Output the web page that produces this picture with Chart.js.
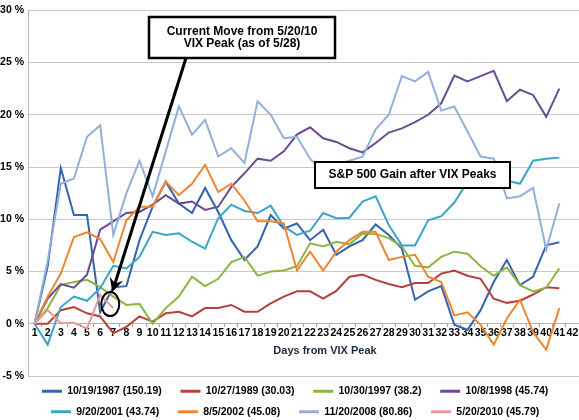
<!DOCTYPE html>
<html lang="en">
<head>
<meta charset="UTF-8">
<title>S&amp;P 500 Gain after VIX Peaks</title>
<script src="https://cdn.jsdelivr.net/npm/chart.js@4.4.1/dist/chart.umd.min.js"></script>
<style>
  html, body { margin: 0; padding: 0; background: #fff; }
  .wrap { position: relative; width: 579px; height: 420px; }
</style>
</head>
<body>
<div class="wrap"><canvas id="chart" width="579" height="420"></canvas></div>
<script>
// days after the VIX peak (axis runs one past the last data point)
const days = ['1','2','3','4','5','6','7','8','9','10','11','12','13','14','15','16','17','18','19','20','21',
  '22','23','24','25','26','27','28','29','30','31','32','33','34','35','36','37','38','39','40','41','42'];

// S&P 500 % gain after each VIX peak
const d1987 = [0, 5.5, 14.9, 10.4, 10.4, 1.1, 3.5, 3.6, 8.0, 11.2, 13.6, 11.5, 10.6, 13.0, 10.7, 8.0, 6.1, 7.4, 10.4, 9.1, 9.6,
  8.0, 9.0, 6.6, 7.4, 8.0, 9.5, 8.5, 7.2, 2.3, 3.1, 3.6, -0.1, -0.6, 1.3, 4.0, 6.1, 3.7, 4.5, 7.5, 7.8];
const d1989 = [0, 0, 1.3, 1.6, 1.0, 0.7, -0.9, -0.3, 0.7, 0.2, 1.0, 1.15, 0.7, 1.5, 1.5, 1.8, 1.15, 1.15, 1.95, 2.6, 3.1,
  3.1, 2.4, 3.15, 4.5, 4.7, 4.2, 3.8, 3.5, 3.9, 3.9, 4.8, 5.1, 4.6, 4.3, 2.4, 2.0, 2.2, 2.8, 3.5, 3.4];
const d1997 = [0, 1.5, 3.7, 4.0, 4.2, 3.5, 2.6, 1.8, 1.9, 0.0, 1.5, 2.6, 4.5, 3.6, 4.3, 5.9, 6.4, 4.6, 5.0, 5.1, 5.5,
  7.7, 7.4, 7.85, 7.6, 8.65, 8.6, 8.2, 7.4, 5.55, 5.4, 6.4, 6.9, 6.7, 5.5, 4.6, 5.4, 3.7, 3.1, 3.45, 5.3];
const d1998 = [0, 2.4, 3.8, 3.45, 4.7, 9.0, 9.8, 10.6, 10.7, 11.4, 12.3, 11.5, 11.7, 10.9, 11.2, 13.1, 14.4, 15.8, 15.6, 16.5, 18.1,
  18.8, 17.75, 17.4, 16.8, 16.4, 17.3, 18.3, 18.7, 19.3, 20.0, 21.1, 23.75, 23.2, 23.7, 24.2, 21.3, 22.4, 21.9, 19.8, 22.5];
const d2001 = [0, -2.0, 1.6, 2.6, 2.2, 3.4, 5.55, 5.3, 6.4, 8.8, 8.5, 8.65, 7.85, 7.2, 10.1, 11.4, 10.8, 10.6, 11.3, 9.3, 8.5,
  8.9, 10.6, 10.1, 10.15, 11.7, 12.2, 9.45, 7.5, 7.5, 9.9, 10.3, 11.6, 13.6, 13.7, 13.4, 13.7, 13.4, 15.6, 15.8, 15.9];
const d2002 = [0, 2.6, 4.8, 8.3, 8.75, 8.1, 5.9, 9.9, 11.2, 11.2, 13.6, 12.3, 13.4, 15.2, 12.6, 13.4, 11.8, 9.8, 9.8, 9.6, 5.1,
  6.9, 5.1, 6.9, 8.0, 8.8, 8.8, 6.1, 6.4, 6.6, 4.5, 4.0, 0.8, 1.1, -0.1, -2.0, 0.5, 2.3, -0.8, -2.5, 1.5];
const d2008 = [0, 6.0, 13.4, 13.9, 17.9, 19.0, 8.5, 12.5, 15.6, 12.2, 16.5, 20.8, 18.1, 19.5, 16.0, 16.8, 15.4, 21.3, 20.0, 17.75, 17.9,
  15.8, 14.6, 15.2, 15.6, 16.0, 18.6, 20.0, 23.7, 23.2, 24.1, 20.4, 20.8, 18.4, 16.0, 15.8, 12.0, 12.2, 13.0, 7.1, 11.5];
const d2010 = [0, 1.3, 0.05, 0.1, -0.45, 2.75, 1.5];

const seriesNames = ['10/19/1987 (150.19)', '10/27/1989 (30.03)', '10/30/1997 (38.2)', '10/8/1998 (45.74)',
  '9/20/2001 (43.74)', '8/5/2002 (45.08)', '11/20/2008 (80.86)', '5/20/2010 (45.79)'];
const seriesData = [d1987, d1989, d1997, d1998, d2001, d2002, d2008, d2010];
const seriesColors = ['#3464ae', '#b8403c', '#8db542', '#6a4c93', '#3ba5c8', '#f0852d', '#93afd9', '#e39a9a'];

const FONT = 'Arial, "Liberation Sans", sans-serif';

// text boxes, arrow and circle drawn over the lines
const annotate = {
  id: 'annotate',
  afterDraw(chart) {
    const { ctx } = chart;
    const x = chart.scales.x, y = chart.scales.y;
    const last = d2010.length - 1;
    const cx = x.getPixelForValue(last) - 3;
    const cy = y.getPixelForValue(d2010[last]) - 4;
    const rx = 9, ry = 12;

    ctx.save();
    // circle round the latest 2010 point
    ctx.strokeStyle = '#000';
    ctx.lineWidth = 2;
    ctx.beginPath();
    ctx.ellipse(cx, cy, rx, ry, 0, 0, Math.PI * 2);
    ctx.stroke();

    // arrow from the box down to the circle
    const sx = 186, sy = 58;
    const tx = cx + 2, ty = cy - ry;
    const len = Math.hypot(tx - sx, ty - sy);
    const ux = (tx - sx) / len, uy = (ty - sy) / len;
    const nx = -uy, ny = ux;
    ctx.lineWidth = 3;
    ctx.beginPath();
    ctx.moveTo(sx, sy);
    ctx.lineTo(tx - ux * 8, ty - uy * 8);
    ctx.stroke();
    ctx.fillStyle = '#000';
    ctx.beginPath();
    ctx.moveTo(tx, ty);
    ctx.lineTo(tx - ux * 14 + nx * 7, ty - uy * 14 + ny * 7);
    ctx.lineTo(tx - ux * 9, ty - uy * 9);
    ctx.lineTo(tx - ux * 14 - nx * 7, ty - uy * 14 - ny * 7);
    ctx.closePath();
    ctx.fill();

    const box = (bx, by, bw, bh, lw, lines) => {
      ctx.fillStyle = '#fff';
      ctx.fillRect(bx, by, bw, bh);
      ctx.lineWidth = lw;
      ctx.strokeStyle = '#000';
      ctx.strokeRect(bx, by, bw, bh);
      ctx.fillStyle = '#000';
      ctx.font = 'bold 12px ' + FONT;
      ctx.textAlign = 'center';
      ctx.textBaseline = 'middle';
      const gap = 12.5;
      const top = by + bh / 2 - (lines.length - 1) * gap / 2;
      lines.forEach((t, i) => ctx.fillText(t, bx + bw / 2, top + i * gap));
    };
    box(149, 17, 186, 41, 2.5, ['Current Move from 5/20/10', 'VIX Peak (as of 5/28)']);
    box(315, 162, 195, 26, 2, ['S&P 500 Gain after VIX Peaks']);

    // x axis title
    ctx.fillStyle = '#1b2a41';
    ctx.font = 'bold 11px ' + FONT;
    ctx.textAlign = 'center';
    ctx.textBaseline = 'middle';
    ctx.fillText('Days from VIX Peak', 325, 351);
    ctx.restore();
  }
};

// nudge the legend a little right, as in the original
const legendShift = {
  id: 'legendShift',
  afterLayout(chart) {
    chart.legend.left += 10;
    chart.legend.right += 10;
  }
};

new Chart(document.getElementById('chart'), {
  type: 'line',
  data: {
    labels: days,
    datasets: seriesData.map((d, i) => ({
      label: seriesNames[i],
      data: d,
      borderColor: seriesColors[i],
      backgroundColor: seriesColors[i],
      borderWidth: 2,
      pointRadius: 0,
      tension: 0,
      fill: false,
      order: seriesData.length - i,
    })),
  },
  options: {
    responsive: false,
    animation: false,
    layout: { padding: { top: 9, right: 0, left: 0, bottom: -7 } },
    plugins: {
      tooltip: { enabled: false },
      legend: {
        position: 'bottom',
        labels: {
          font: { family: FONT, size: 10.5, weight: 'bold' },
          color: '#000',
          boxWidth: 20,
          boxHeight: 3,
          padding: 10,
          sort: (a, b) => a.datasetIndex - b.datasetIndex,
          generateLabels: (chart) => Chart.defaults.plugins.legend.labels.generateLabels(chart)
            .map((l) => ({ ...l, text: l.text + '   ', lineWidth: 0 })),
        },
      },
    },
    scales: {
      x: {
        type: 'category',
        position: { y: 0 },
        offset: true,
        grid: { display: true, offset: true, drawOnChartArea: false, drawTicks: true, tickLength: 3, color: '#a0a0a0' },
        border: { display: true, color: '#b4b4b4' },
        ticks: { autoSkip: false, maxRotation: 0, padding: 0, color: '#000', font: { family: FONT, size: 10.5, weight: 'bold' } },
      },
      y: {
        min: -5,
        max: 30,
        ticks: {
          stepSize: 5,
          padding: 4,
          color: '#000',
          font: { family: FONT, size: 10.5, weight: 'bold' },
          callback: (v) => v + ' %',
        },
        grid: { color: '#c8c8c8', lineWidth: 1, drawTicks: false },
        border: { display: true, color: '#b4b4b4' },
        afterFit: (s) => { s.width = 28; },
      },
    },
  },
  plugins: [annotate, legendShift],
});
</script>
</body>
</html>
